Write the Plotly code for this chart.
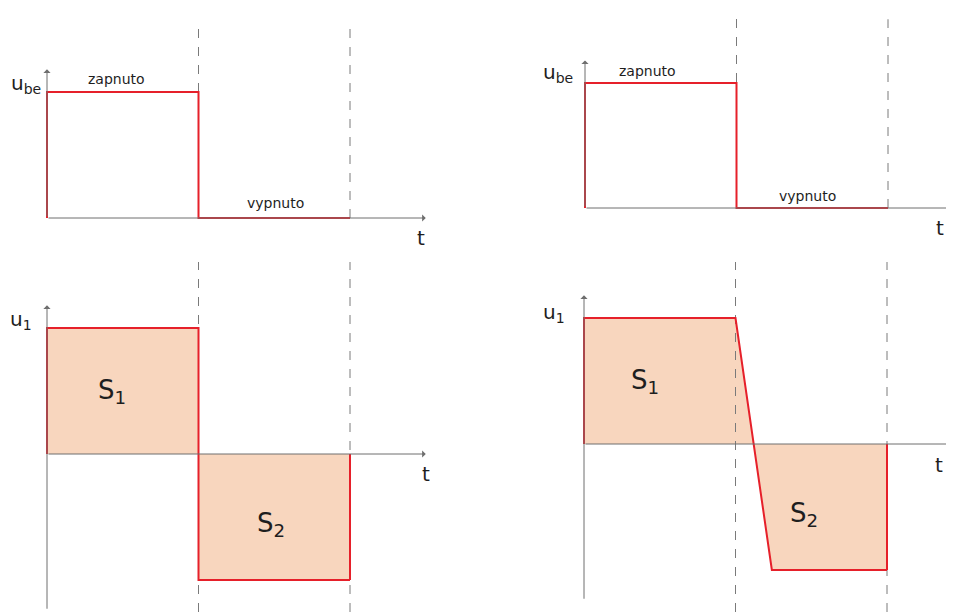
"""
Switching waveforms: base voltage u_be and output voltage u_1 (ideal vs. real edge).
"""

import plotly.graph_objects as go

# the page body adds an 8 px margin, so the figure sits at (8, 8) in the window
OFF = 8
W, H = 954 - OFF, 612 - OFF

# time in half-periods: 0 = switch on, 1 = switch off, 2 = end of period
t_ube = [0, 0, 1, 1, 2]
ube = [0, 1, 1, 0, 0]

t_u1_ideal = [0, 0, 1, 1, 2, 2]
u1_ideal = [0, 1, 1, -1, -1, 0]

t_u1_real = [0, 0, 1, 1.24, 2, 2]
u1_real = [0, 1, 1, -1, -1, 0]

switch_times = [1, 2]
dash_tops = [1.56, 1.51]
state_labels = ["zapnuto", "vypnuto"]
area_labels = ["S<sub>1</sub>", "S<sub>2</sub>"]

RED = "#e6202a"
FILL = "rgb(248,214,190)"
AXIS = "#6e6e6e"
FONT = "DejaVu Sans"

# panel layout in window pixels: (x0, x1, y_top, y_bottom, origin_x, origin_y, px per t, px per u)
panels = {
    "tl": (8, 470, 8, 262, 47, 218, 151.5, 126),
    "bl": (8, 470, 262, 612, 47, 454, 151.5, 126),
    "tr": (477, 954, 8, 262, 585, 208, 151.5, 125),
    "br": (477, 954, 262, 612, 584, 444, 151.5, 126),
}
axis_ids = {"tl": ("x", "y"), "bl": ("x2", "y2"), "tr": ("x3", "y3"), "br": ("x4", "y4")}
y_ranges = {}

fig = go.Figure()
layout = {}
for key, (x0, x1, yt, yb, ox, oy, sx, sy) in panels.items():
    xa, ya = axis_ids[key]
    xname = "xaxis" if xa == "x" else "xaxis" + xa[1:]
    yname = "yaxis" if ya == "y" else "yaxis" + ya[1:]
    yr = [(oy - yb) / sy, (oy - yt) / sy]
    y_ranges[key] = yr
    layout[xname] = dict(domain=[(x0 - OFF) / W, (x1 - OFF) / W],
                         range=[(x0 - ox) / sx, (x1 - ox) / sx],
                         visible=False, anchor=ya, fixedrange=True)
    layout[yname] = dict(domain=[1 - (yb - OFF) / H, 1 - (yt - OFF) / H], range=yr,
                         visible=False, anchor=xa, fixedrange=True)
fig.update_layout(**layout)

# axis extents (data units); the right-hand time axes run into the page edge
T_END = {"left": 2.5, "right": 2.43}
U_TOP = 1.18
U_BOTTOM = -1.24

annotations = []


def arrow(xa, ya, x, y, ax, ay):
    annotations.append(dict(
        x=x, y=y, ax=ax, ay=ay, xref=xa, yref=ya, axref=xa, ayref=ya,
        showarrow=True, arrowhead=1, arrowsize=1.2, arrowwidth=1, arrowcolor=AXIS, text="",
    ))


def label(xa, ya, x, y, text, size, xanchor="center"):
    annotations.append(dict(
        x=x, y=y, xref=xa, yref=ya, text=text, showarrow=False, xanchor=xanchor,
        font=dict(family=FONT, size=size, color="#1e1e1e"),
    ))


def line(key, t, u, **kw):
    xa, ya = axis_ids[key]
    fig.add_trace(go.Scatter(x=t, y=u, xaxis=xa, yaxis=ya, mode="lines",
                             hoverinfo="skip", showlegend=False, **kw))


# area fills
line("bl", t_u1_ideal, u1_ideal, fill="tozeroy", fillcolor=FILL,
     line=dict(color="rgba(0,0,0,0)", width=0))
line("br", t_u1_real, u1_real, fill="tozeroy", fillcolor=FILL,
     line=dict(color="rgba(0,0,0,0)", width=0))

# dashed switching instants
for top, bottom in (("tl", "bl"), ("tr", "br")):
    for ts, top_u in zip(switch_times, dash_tops):
        dash = dict(color="#7a7a7a", width=1, dash="dash")
        line(top, [ts, ts], [0, top_u], line=dash)
        line(bottom, [ts, ts], y_ranges[bottom], line=dash)

# axes
for side, top, bottom in (("left", "tl", "bl"), ("right", "tr", "br")):
    xa, ya = axis_ids[top]
    arrow(xa, ya, T_END[side], 0, 0, 0)
    arrow(xa, ya, 0, U_TOP, 0, 0)
    xb, yb = axis_ids[bottom]
    arrow(xb, yb, T_END[side], 0, 0, 0)
    arrow(xb, yb, 0, U_TOP, 0, U_BOTTOM)

# waveforms
red = dict(color=RED, width=2)
line("tl", t_ube, ube, line=red)
line("tr", t_ube, ube, line=red)
for key, t, u in (("bl", t_u1_ideal, u1_ideal), ("br", t_u1_real, u1_real)):
    line(key, t[:-1], u[:-1], line=red)
    line(key, t[-2:], u[-2:], line=red)

# texts
label("x", "y", 0.46, 1.10, state_labels[0], 14)
label("x", "y", 1.51, 0.12, state_labels[1], 14)
label("x3", "y3", 0.41, 1.10, state_labels[0], 14)
label("x3", "y3", 1.47, 0.10, state_labels[1], 14)

label("x", "y", -0.14, 1.06, "u<sub>be</sub>", 20)
label("x3", "y3", -0.18, 1.08, "u<sub>be</sub>", 20)
label("x2", "y2", -0.17, 1.06, "u<sub>1</sub>", 20)
label("x4", "y4", -0.20, 1.04, "u<sub>1</sub>", 20)

label("x", "y", 2.47, -0.16, "t", 20)
label("x2", "y2", 2.50, -0.16, "t", 20)
# right-hand "t" labels sit at the page edge
label("x3", "y3", 2.38, -0.16, "t", 20, xanchor="right")
label("x4", "y4", 2.38, -0.17, "t", 20, xanchor="right")

label("x2", "y2", 0.43, 0.50, area_labels[0], 26)
label("x2", "y2", 1.48, -0.56, area_labels[1], 26)
label("x4", "y4", 0.40, 0.50, area_labels[0], 26)
label("x4", "y4", 1.45, -0.56, area_labels[1], 26)

fig.update_layout(
    width=W, height=H,
    margin=dict(l=0, r=0, t=0, b=0),
    paper_bgcolor="white", plot_bgcolor="rgba(0,0,0,0)",
    showlegend=False,
    annotations=annotations,
)

fig.write_html("out.html")
